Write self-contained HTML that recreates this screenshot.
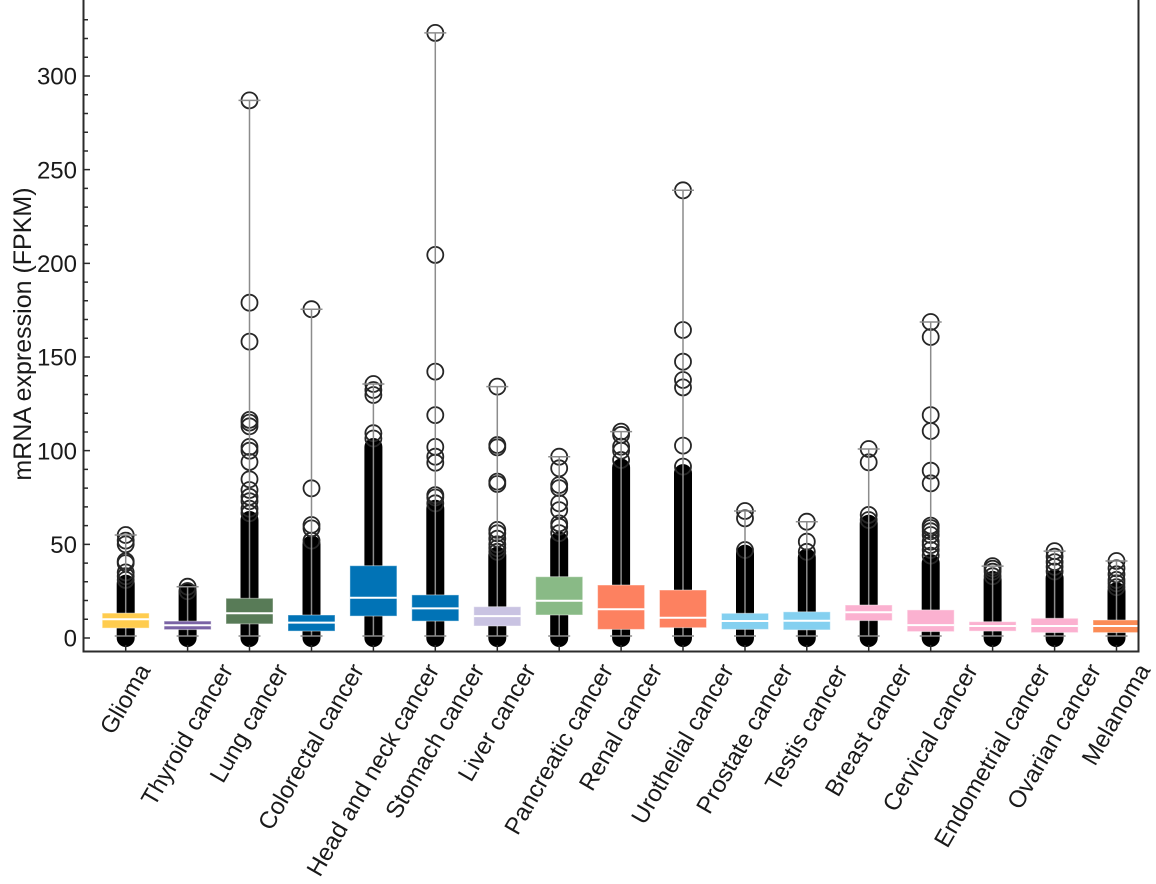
<!DOCTYPE html>
<html><head><meta charset="utf-8"><style>
html,body{margin:0;padding:0;background:#fff;}
svg{display:block;}
text{font-family:"Liberation Sans",Arial,sans-serif;fill:#1a1a1a;}
.col{fill:#000;}
.o circle{fill:none;stroke:#262626;stroke-width:1.8;}
.w{fill:none;stroke:#8c8c8c;stroke-width:1.5;}
.b{stroke:#fff;stroke-opacity:0.45;stroke-width:1;}
.m{stroke:#fff;stroke-width:2;}
</style></head><body>
<svg width="1156" height="884" viewBox="0 0 1156 884" xmlns="http://www.w3.org/2000/svg">
<defs><clipPath id="pa"><rect x="84" y="0" width="1054" height="651"/></clipPath></defs>
<g clip-path="url(#pa)">
<!-- Glioma -->
<g transform="translate(125.7,0)">
<rect class="col" x="-9" y="574.7" width="18" height="72.3" rx="9"/>
<g class="o"><circle cy="535" r="8"/><circle cy="540.6" r="8"/><circle cy="544.3" r="8"/><circle cy="561.2" r="8"/><circle cy="563.1" r="8"/><circle cy="572.4" r="8"/><circle cy="576.2" r="8"/><circle cy="579.9" r="8"/></g>
<path class="w" d="M0 636V535M-11 535H11M-11 636H11"/>
<rect class="b" x="-23.5" y="613.1" width="47" height="15" fill="#ffcc4e"/>
<path class="m" d="M-23.5 619.3H23.5"/>
</g>
<!-- Thyroid -->
<g transform="translate(187.6,0)">
<rect class="col" x="-9" y="582.2" width="18" height="64.8" rx="9"/>
<g class="o"><circle cy="586.7" r="8"/><circle cy="591.2" r="8"/></g>
<path class="w" d="M0 636V586.7M-11 586.7H11M-11 636H11"/>
<rect class="b" x="-23.5" y="621.1" width="47" height="8.5" fill="#7a63a5"/>
<path class="m" d="M-23.5 625.3H23.5"/>
</g>
<!-- Lung -->
<g transform="translate(249.5,0)">
<rect class="col" x="-9" y="511" width="18" height="136" rx="9"/>
<g class="o"><circle cy="100.4" r="8"/><circle cy="302.7" r="8"/><circle cy="341.6" r="8"/><circle cy="419.9" r="8"/><circle cy="422.6" r="8"/><circle cy="426.3" r="8"/><circle cy="446.9" r="8"/><circle cy="450.7" r="8"/><circle cy="461.9" r="8"/><circle cy="479.3" r="8"/><circle cy="490" r="8"/><circle cy="496.8" r="8"/><circle cy="501.2" r="8"/><circle cy="508.7" r="8"/><circle cy="513.2" r="8"/></g>
<path class="w" d="M0 636V100.4M-11 100.4H11M-11 636H11"/>
<rect class="b" x="-23.5" y="598.3" width="47" height="25.6" fill="#587b57"/>
<path class="m" d="M-23.5 613.3H23.5"/>
</g>
<!-- Colorectal -->
<g transform="translate(311.5,0)">
<rect class="col" x="-9" y="535.3" width="18" height="111.7" rx="9"/>
<g class="o"><circle cy="309.2" r="8"/><circle cy="488.3" r="8"/><circle cy="525" r="8"/><circle cy="528.4" r="8"/><circle cy="540.6" r="8"/></g>
<path class="w" d="M0 636V309.2M-11 309.2H11M-11 636H11"/>
<rect class="b" x="-23.5" y="615" width="47" height="16.1" fill="#0173b6"/>
<path class="m" d="M-23.5 622.6H23.5"/>
</g>
<!-- Head and neck -->
<g transform="translate(373.4,0)">
<rect class="col" x="-9" y="438" width="18" height="209" rx="9"/>
<g class="o"><circle cy="384" r="8"/><circle cy="390" r="8"/><circle cy="395" r="8"/><circle cy="433.2" r="8"/><circle cy="438.5" r="8"/></g>
<path class="w" d="M0 636V384M-11 384H11M-11 636H11"/>
<rect class="b" x="-23.5" y="565.7" width="47" height="50.4" fill="#0173b6"/>
<path class="m" d="M-23.5 597.7H23.5"/>
</g>
<!-- Stomach -->
<g transform="translate(435.3,0)">
<rect class="col" x="-9" y="499.7" width="18" height="147.3" rx="9"/>
<g class="o"><circle cy="32.9" r="8"/><circle cy="254.9" r="8"/><circle cy="371.6" r="8"/><circle cy="415.1" r="8"/><circle cy="446.9" r="8"/><circle cy="456.7" r="8"/><circle cy="462.7" r="8"/><circle cy="495.1" r="8"/><circle cy="497.5" r="8"/><circle cy="503.3" r="8"/></g>
<path class="w" d="M0 636V32.9M-11 32.9H11M-11 636H11"/>
<rect class="b" x="-23.5" y="594.9" width="47" height="26.2" fill="#0173b6"/>
<path class="m" d="M-23.5 608.4H23.5"/>
</g>
<!-- Liver -->
<g transform="translate(497.3,0)">
<rect class="col" x="-9" y="546.6" width="18" height="100.4" rx="9"/>
<g class="o"><circle cy="386.6" r="8"/><circle cy="445" r="8"/><circle cy="447.3" r="8"/><circle cy="481.6" r="8"/><circle cy="484" r="8"/><circle cy="529.9" r="8"/><circle cy="533.3" r="8"/><circle cy="538.7" r="8"/><circle cy="544.3" r="8"/><circle cy="548.1" r="8"/><circle cy="551.8" r="8"/></g>
<path class="w" d="M0 636V386.6M-11 386.6H11M-11 636H11"/>
<rect class="b" x="-23.5" y="606.7" width="47" height="19.3" fill="#c9c3e2"/>
<path class="m" d="M-23.5 616.1H23.5"/>
</g>
<!-- Pancreatic -->
<g transform="translate(559.2,0)">
<rect class="col" x="-9" y="531.6" width="18" height="115.4" rx="9"/>
<g class="o"><circle cy="456.7" r="8"/><circle cy="468.3" r="8"/><circle cy="485" r="8"/><circle cy="488.1" r="8"/><circle cy="503.3" r="8"/><circle cy="510.1" r="8"/><circle cy="523.4" r="8"/><circle cy="526.7" r="8"/><circle cy="533.1" r="8"/></g>
<path class="w" d="M0 636V456.7M-11 456.7H11M-11 636H11"/>
<rect class="b" x="-23.5" y="576.7" width="47" height="38.3" fill="#89ba86"/>
<path class="m" d="M-23.5 600.7H23.5"/>
</g>
<!-- Renal -->
<g transform="translate(621.1,0)">
<rect class="col" x="-9" y="458.5" width="18" height="188.5" rx="9"/>
<g class="o"><circle cy="431.6" r="8"/><circle cy="434.9" r="8"/><circle cy="446.7" r="8"/><circle cy="450.7" r="8"/><circle cy="460" r="8"/></g>
<path class="w" d="M0 636V431.6M-11 431.6H11M-11 636H11"/>
<rect class="b" x="-23.5" y="585" width="47" height="44.4" fill="#fd8160"/>
<path class="m" d="M-23.5 609.3H23.5"/>
</g>
<!-- Urothelial -->
<g transform="translate(683,0)">
<rect class="col" x="-9" y="464.1" width="18" height="182.9" rx="9"/>
<g class="o"><circle cy="190.3" r="8"/><circle cy="330" r="8"/><circle cy="361.7" r="8"/><circle cy="380" r="8"/><circle cy="387.4" r="8"/><circle cy="445.6" r="8"/><circle cy="466.6" r="8"/></g>
<path class="w" d="M0 636V190.3M-11 190.3H11M-11 636H11"/>
<rect class="b" x="-23.5" y="590" width="47" height="37.7" fill="#fd8160"/>
<path class="m" d="M-23.5 617.8H23.5"/>
</g>
<!-- Prostate -->
<g transform="translate(745,0)">
<rect class="col" x="-9" y="544.7" width="18" height="102.3" rx="9"/>
<g class="o"><circle cy="511" r="8"/><circle cy="518.3" r="8"/><circle cy="550" r="8"/></g>
<path class="w" d="M0 636V511M-11 511H11M-11 636H11"/>
<rect class="b" x="-23.5" y="613.3" width="47" height="16.1" fill="#84d0f0"/>
<path class="m" d="M-23.5 621H23.5"/>
</g>
<!-- Testis -->
<g transform="translate(806.8,0)">
<rect class="col" x="-9" y="548.4" width="18" height="98.6" rx="9"/>
<g class="o"><circle cy="521.7" r="8"/><circle cy="541.7" r="8"/><circle cy="551.8" r="8"/></g>
<path class="w" d="M0 636V521.7M-11 521.7H11M-11 636H11"/>
<rect class="b" x="-23.5" y="611.8" width="47" height="18.1" fill="#84d0f0"/>
<path class="m" d="M-23.5 620.8H23.5"/>
</g>
<!-- Breast -->
<g transform="translate(868.7,0)">
<rect class="col" x="-9" y="514.7" width="18" height="132.3" rx="9"/>
<g class="o"><circle cy="449" r="8"/><circle cy="462.3" r="8"/><circle cy="514.9" r="8"/><circle cy="520" r="8"/></g>
<path class="w" d="M0 636V449M-11 449H11M-11 636H11"/>
<rect class="b" x="-23.5" y="605" width="47" height="15.6" fill="#fbb1d0"/>
<path class="m" d="M-23.5 612.3H23.5"/>
</g>
<!-- Cervical -->
<g transform="translate(930.7,0)">
<rect class="col" x="-9" y="554.1" width="18" height="92.9" rx="9"/>
<g class="o"><circle cy="322" r="8"/><circle cy="337" r="8"/><circle cy="415.1" r="8"/><circle cy="431" r="8"/><circle cy="470.7" r="8"/><circle cy="483.3" r="8"/><circle cy="525.6" r="8"/><circle cy="528" r="8"/><circle cy="531.2" r="8"/><circle cy="535" r="8"/><circle cy="541.7" r="8"/><circle cy="545.1" r="8"/><circle cy="550" r="8"/><circle cy="555.6" r="8"/></g>
<path class="w" d="M0 636V322M-11 322H11M-11 636H11"/>
<rect class="b" x="-23.5" y="609.9" width="47" height="21.7" fill="#fbb1d0"/>
<path class="m" d="M-23.5 625.1H23.5"/>
</g>
<!-- Endometrial -->
<g transform="translate(992.6,0)">
<rect class="col" x="-9" y="570.9" width="18" height="76.1" rx="9"/>
<g class="o"><circle cy="566.1" r="8"/><circle cy="568.7" r="8"/><circle cy="571.7" r="8"/><circle cy="576.2" r="8"/></g>
<path class="w" d="M0 636V566.1M-11 566.1H11M-11 636H11"/>
<rect class="b" x="-23.5" y="621.7" width="47" height="9.4" fill="#fbb1d0"/>
<path class="m" d="M-23.5 626H23.5"/>
</g>
<!-- Ovarian -->
<g transform="translate(1054.6,0)">
<rect class="col" x="-9" y="569.1" width="18" height="77.9" rx="9"/>
<g class="o"><circle cy="551.1" r="8"/><circle cy="556.7" r="8"/><circle cy="562.1" r="8"/><circle cy="566.8" r="8"/><circle cy="571.5" r="8"/></g>
<path class="w" d="M0 636V551.1M-11 551.1H11M-11 636H11"/>
<rect class="b" x="-23.5" y="618.3" width="47" height="14.3" fill="#fbb1d0"/>
<path class="m" d="M-23.5 626H23.5"/>
</g>
<!-- Melanoma -->
<g transform="translate(1116.5,0)">
<rect class="col" x="-9" y="582.2" width="18" height="64.8" rx="9"/>
<g class="o"><circle cy="561" r="8"/><circle cy="568.3" r="8"/><circle cy="574.3" r="8"/><circle cy="579.9" r="8"/><circle cy="583.3" r="8"/><circle cy="587.2" r="8"/></g>
<path class="w" d="M0 636V561M-11 561H11M-11 636H11"/>
<rect class="b" x="-23.5" y="620" width="47" height="12.6" fill="#fb8c56"/>
<path class="m" d="M-23.5 626H23.5"/>
</g>
</g>
<!-- bottom ticks -->
<path d="M125.7 651V645M187.6 651V645M249.5 651V645M311.5 651V645M373.4 651V645M435.3 651V645M497.3 651V645M559.2 651V645M621.1 651V645M683 651V645M745 651V645M806.8 651V645M868.7 651V645M930.7 651V645M992.6 651V645M1054.6 651V645M1116.5 651V645" stroke="#2b2b2b" stroke-width="1.5" fill="none"/>
<!-- y ticks -->
<path d="M84 638H90M84 619.27H88M84 600.53H88M84 581.8H88M84 563.07H88M84 544.33H90M84 525.6H88M84 506.87H88M84 488.14H88M84 469.4H88M84 450.67H90M84 431.94H88M84 413.2H88M84 394.47H88M84 375.74H88M84 357H90M84 338.27H88M84 319.54H88M84 300.8H88M84 282.07H88M84 263.34H90M84 244.6H88M84 225.87H88M84 207.14H88M84 188.4H88M84 169.67H90M84 150.94H88M84 132.2H88M84 113.47H88M84 94.74H88M84 76H90M84 57.27H88M84 38.54H88M84 19.8H88" stroke="#2b2b2b" stroke-width="1.5" fill="none"/>
<!-- axes -->
<path d="M83.5 0V651.5H1138.5V0" stroke="#2b2b2b" stroke-width="2" fill="none"/>
<!-- y tick labels -->
<g font-size="24" text-anchor="end">
<text x="77" y="646.6">0</text>
<text x="77" y="552.9">50</text>
<text x="77" y="459.3">100</text>
<text x="77" y="365.6">150</text>
<text x="77" y="271.9">200</text>
<text x="77" y="178.3">250</text>
<text x="77" y="84.6">300</text>
</g>
<text transform="translate(31,334) rotate(-90)" font-size="25" text-anchor="middle">mRNA expression (FPKM)</text>
<!-- x labels -->
<g font-size="24" text-anchor="middle" dominant-baseline="central">
<text transform="translate(125.7,699.2) rotate(-60)">Glioma</text>
<text transform="translate(187.6,735) rotate(-60)">Thyroid cancer</text>
<text transform="translate(249.5,723.4) rotate(-60)">Lung cancer</text>
<text transform="translate(311.5,747.1) rotate(-60)">Colorectal cancer</text>
<text transform="translate(373.4,770.2) rotate(-60)">Head and neck cancer</text>
<text transform="translate(435.3,741.3) rotate(-60)">Stomach cancer</text>
<text transform="translate(497.3,722.8) rotate(-60)">Liver cancer</text>
<text transform="translate(559.2,749.4) rotate(-60)">Pancreatic cancer</text>
<text transform="translate(621.1,727.5) rotate(-60)">Renal cancer</text>
<text transform="translate(683,744.2) rotate(-60)">Urothelial cancer</text>
<text transform="translate(745,739) rotate(-60)">Prostate cancer</text>
<text transform="translate(806.8,728) rotate(-60)">Testis cancer</text>
<text transform="translate(868.7,730.3) rotate(-60)">Breast cancer</text>
<text transform="translate(930.7,737.9) rotate(-60)">Cervical cancer</text>
<text transform="translate(992.6,755.8) rotate(-60)">Endometrial cancer</text>
<text transform="translate(1054.6,736.7) rotate(-60)">Ovarian cancer</text>
<text transform="translate(1116.5,714.7) rotate(-60)">Melanoma</text>
</g>
</svg>
</body></html>
